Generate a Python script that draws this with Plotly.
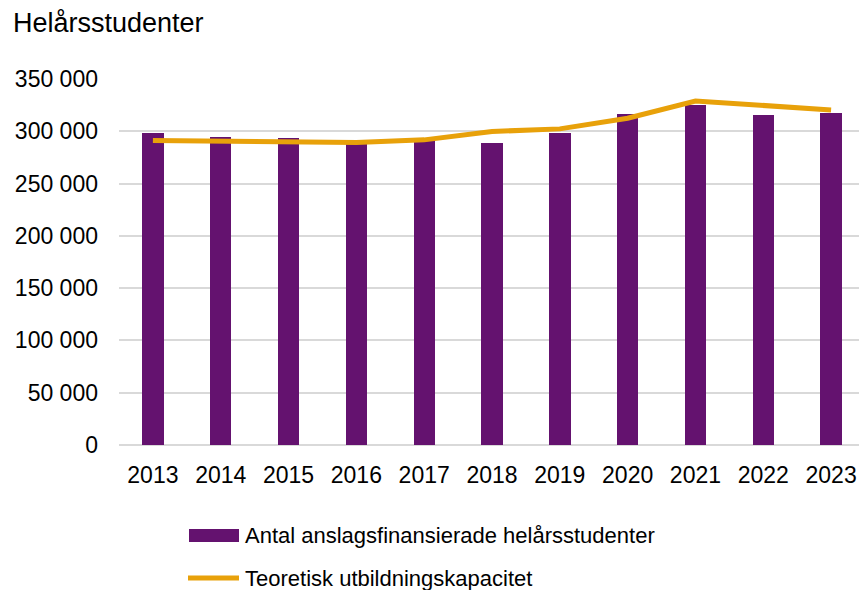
import plotly.graph_objects as go

years = ["2013", "2014", "2015", "2016", "2017", "2018", "2019", "2020", "2021", "2022", "2023"]
students = [298800, 294700, 294000, 288700, 291500, 289000, 298800, 316500, 324800, 315800, 317800]
capacity = [291200, 290900, 290600, 289300, 291800, 299800, 302300, 312500, 329000, 324500, 320400]
y_ticks = [0, 50000, 100000, 150000, 200000, 250000, 300000, 350000]
y_tick_labels = ["0", "50 000", "100 000", "150 000", "200 000", "250 000", "300 000", "350 000"]

bar_name = "Antal anslagsfinansierade helårsstudenter"
line_name = "Teoretisk utbildningskapacitet"
title_text = "Helårsstudenter"

PURPLE = "#64126F"
ORANGE = "#E8A10A"
FONT = "Liberation Sans, Arial, sans-serif"
SW, SH = 867, 590          # screen size
OFF = 8                    # page body margin
W, H = SW - OFF, SH - OFF  # figure size
L, R, T, B = 119, 865, 79, 445  # plot area in screen pixels

def px(x):
    return (x - L) / (R - L)

def py(y):
    return (B - y) / (B - T)

fig = go.Figure()
fig.add_trace(go.Bar(x=years, y=students, name=bar_name, marker_color=PURPLE,
                     marker_line_width=0, width=0.315, showlegend=False))
fig.add_trace(go.Scatter(x=years, y=capacity, name=line_name, mode="lines",
                         line=dict(color=ORANGE, width=5), showlegend=False))

# custom legend
fig.add_shape(type="rect", xref="paper", yref="paper",
              x0=px(189), x1=px(239), y0=py(529), y1=py(542),
              fillcolor=PURPLE, line_width=0)
fig.add_shape(type="line", xref="paper", yref="paper",
              x0=px(188), x1=px(239), y0=py(578), y1=py(578),
              line=dict(color=ORANGE, width=5))
fig.add_annotation(text=bar_name, xref="paper", yref="paper", x=px(243), y=py(535),
                   xanchor="left", yanchor="middle", showarrow=False,
                   font=dict(family=FONT, size=22, color="#000000"))
fig.add_annotation(text=line_name, xref="paper", yref="paper", x=px(243), y=py(578),
                   xanchor="left", yanchor="middle", showarrow=False,
                   font=dict(family=FONT, size=22, color="#000000"))

fig.update_layout(
    width=W, height=H,
    margin=dict(l=L - OFF, r=SW - R, t=T - OFF, b=SH - B, pad=0),
    paper_bgcolor="white", plot_bgcolor="white",
    font=dict(family=FONT, size=23, color="#000000"),
    title=dict(text=title_text, x=(13 - OFF) / W, xref="container", xanchor="left",
               y=1 - (23 - OFF) / H, yref="container", yanchor="middle",
               font=dict(family=FONT, size=27, color="#000000")),
    bargap=0.0,
    xaxis=dict(showgrid=False, showline=False, ticks="", ticklabelstandoff=14,
               tickfont=dict(family=FONT, size=23)),
    yaxis=dict(range=[0, 350000], tickvals=y_ticks, ticktext=y_tick_labels,
               showgrid=True, gridcolor="#D9D9D9", gridwidth=1.5,
               zeroline=True, zerolinecolor="#D9D9D9", zerolinewidth=1.5,
               showline=False, ticks="", ticklabelstandoff=20,
               tickfont=dict(family=FONT, size=23)),
)

fig.write_html("out.html")
